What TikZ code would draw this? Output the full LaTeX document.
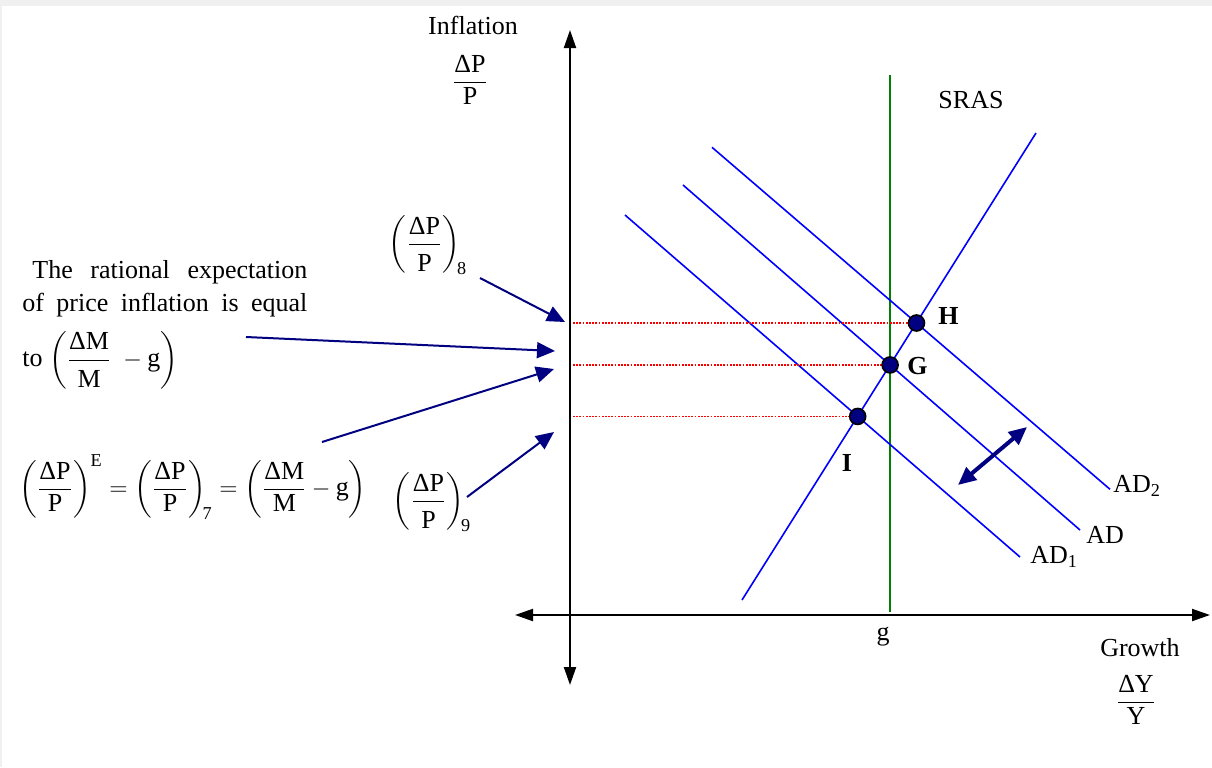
\documentclass[tikz,border=0pt]{standalone}
\usepackage{amsmath}
\usepackage{fontspec}
\setmainfont{Liberation Serif}
\usetikzlibrary{arrows.meta}
\definecolor{navy}{HTML}{000080}
\definecolor{adblue}{HTML}{0000FF}
\definecolor{srasgreen}{HTML}{008000}
\definecolor{frame}{HTML}{F0F0F0}
\newcommand{\tallfr}[2]{\dfrac{\text{#1}\rule[-3pt]{0pt}{10pt}}{\rule{0pt}{12pt}\text{#2}}}
\newcommand{\dPP}{\dfrac{\text{ΔP}}{\text{P}}}
\tikzset{axisline/.style={{Triangle[length=9pt,width=6pt]}-{Triangle[length=9pt,width=6pt]},line width=1pt},
adline/.style={adblue,line width=.8pt},
pointer/.style={-{Triangle[length=9pt,width=8pt]},line width=1pt,navy},
guide/.style={red,line width=.9pt,dash pattern=on .9pt off .7pt},
dotnode/.style={circle,draw=black,fill=navy,line width=.8pt,inner sep=0pt,minimum size=8pt},
lab/.style={font=\fontsize{13}{15.6}\selectfont,inner sep=0pt},
ptlab/.style={font=\fontsize{13}{15.6}\selectfont\bfseries,inner sep=0pt}}

\begin{document}
\begin{tikzpicture}[x=.5pt,y=-.5pt]
\fill[frame] (0,0) rectangle (1212,767);
\fill[white] (2,6) rectangle (1212,767);
\coordinate (ytop) at (570,30);
\coordinate (ybot) at (570,685);
\coordinate (xleft) at (515,615);
\coordinate (xright) at (1210,615);
\coordinate (axx) at (573,0);
\draw[axisline] (ybot)--(ytop);
\draw[axisline] (xleft)--(xright);
\coordinate (vtop) at (890,75);
\coordinate (vbot) at (890,612);
\draw[srasgreen,line width=.8pt] (vbot)--(vtop);
\coordinate (s1) at (742,600);
\coordinate (s2) at (1036,133);
\coordinate (a1) at (625,215);
\coordinate (a1e) at (1020,557);
\coordinate (a0) at (683,185);
\coordinate (a0e) at (1080,530);
\coordinate (a2) at (712,147.3);
\coordinate (a2e) at (1110,489.3);
\draw[adline] (s1)--(s2);
\draw[adline] (a1)--(a1e);
\draw[adline] (a0)--(a0e);
\draw[adline] (a2)--(a2e);
\coordinate (I) at (intersection of s1--s2 and a1--a1e);
\coordinate (G) at (intersection of s1--s2 and a0--a0e);
\coordinate (H) at (intersection of s1--s2 and a2--a2e);
\draw[guide] (H -| axx)--(H);
\draw[guide] (G -| axx)--(G);
\draw[guide] (I -| axx)--(I);
\node[dotnode] (dotH) at (H) {};
\node[dotnode] (dotG) at (G) {};
\node[dotnode] (dotI) at (I) {};
\node[ptlab,anchor=west] (labH) at (938,316) {H};
\node[ptlab,anchor=west] (labG) at (907,366) {G};
\node[ptlab] (labI) at (847,463) {I};
\node[lab,anchor=west] (labAD2) at (1113,486) {AD\textsubscript{2}};
\node[lab,anchor=west] (labAD) at (1086,535) {AD};
\node[lab,anchor=west] (labAD1) at (1030,557) {AD\textsubscript{1}};
\node[lab] (labSRAS) at (971,100) {SRAS};
\node[lab] (labg) at (883,637) {g};
\node[lab] (inflLabel) at (473,25) {Inflation};
\node[lab] (inflFrac) at (470,80) {$\dPP$};
\node[lab] (growthLabel) at (1140,648) {Growth};
\node[lab] (growthFrac) at (1136,700) {$\dfrac{\text{ΔY}}{\text{Y}}$};
\node[lab] (dp8) at (428,245) {$\left(\tallfr{ΔP}{P}\right)_{\!\text{8}}$};
\node[lab] (dp9) at (432,502) {$\left(\tallfr{ΔP}{P}\right)_{\!\text{9}}$};
\node[lab,anchor=base west] (ratA) at (32,278) {\makebox[137.5pt][s]{The rational expectation}};
\node[lab,anchor=base west] (ratB) at (22,311) {\makebox[142.5pt][s]{of price inflation is equal}};
\node[lab,anchor=west] (ratC) at (22,360) {to $\left(\tallfr{ΔM}{M}\;-\text{g}\right)$};
\node[lab] (eqE) at (193,487) {$\left(\dPP\right)^{\text{E}} = \left(\dPP\right)_{\!\text{7}} = \left(\dfrac{\text{ΔM}}{\text{M}}-\text{g}\right)$};
\coordinate (p8s) at (480,278);
\coordinate (p8t) at (565,322);
\coordinate (rs) at (246,337);
\coordinate (rt) at (555,351);
\coordinate (es) at (322,442);
\coordinate (et) at (554,369);
\coordinate (p9s) at (467,497);
\coordinate (p9t) at (554,432);
\draw[pointer] (p8s)--(p8t);
\draw[pointer] (rs)--(rt);
\draw[pointer] (es)--(et);
\draw[pointer] (p9s)--(p9t);
\coordinate (shiftA) at (958,485);
\coordinate (shiftB) at (1027,427);
\draw[{Triangle[length=9pt,width=8pt]}-{Triangle[length=9pt,width=8pt]},line width=2pt,navy] (shiftA)--(shiftB);
\end{tikzpicture}
\end{document}
